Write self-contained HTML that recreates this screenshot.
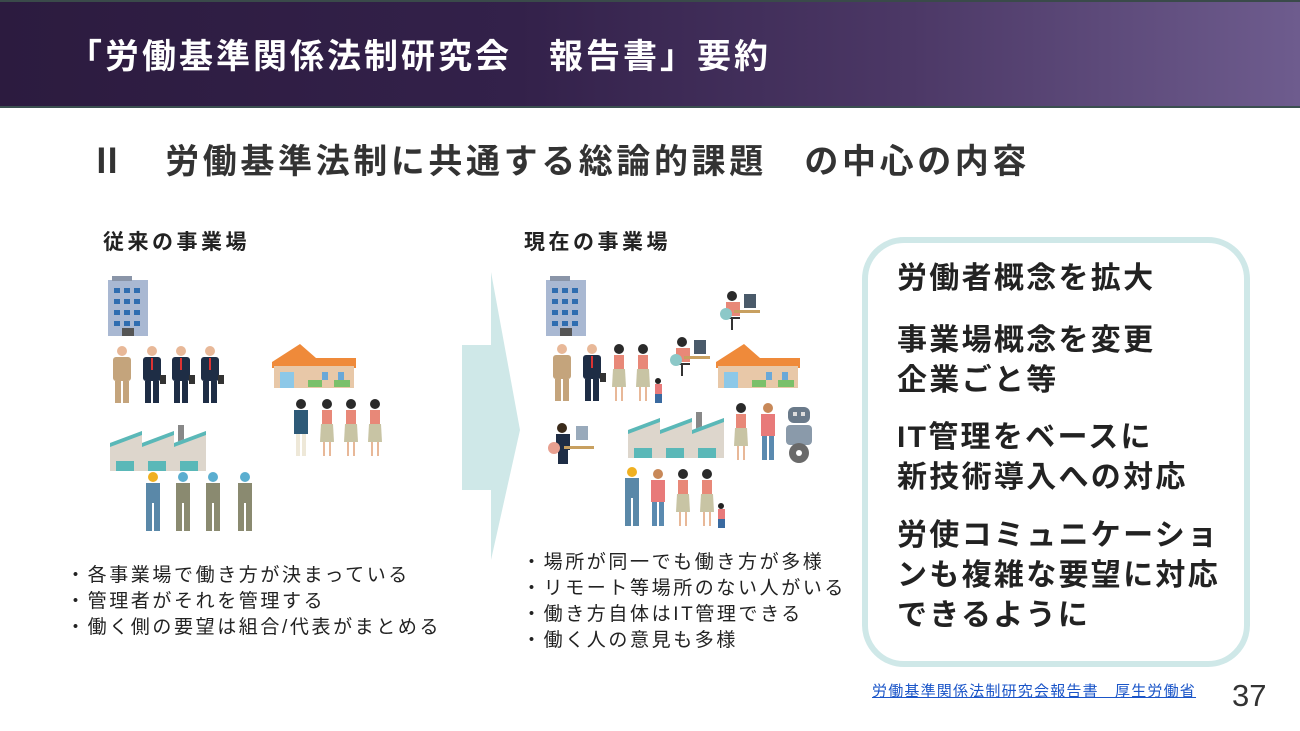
<!DOCTYPE html>
<html><head><meta charset="utf-8"><style>
body{margin:0;width:1300px;height:731px;position:relative;overflow:hidden;background:#fff;font-family:"Liberation Sans","Noto Sans CJK JP",sans-serif;}
.hd{position:absolute;left:0;top:0;width:1300px;height:108px;background:linear-gradient(90deg,#2c1b3f 0%,#33214a 40%,#4c3866 70%,#6e5c8e 100%);border-top:2px solid #3a4a4a;border-bottom:2px solid #3b5050;box-sizing:border-box}
.t{position:absolute;white-space:nowrap;line-height:1}
.box{position:absolute;left:862px;top:237px;width:388px;height:430px;border:6px solid #cfe8e8;border-radius:42px;box-sizing:border-box}
.bt{font-size:30px;letter-spacing:2.3px;font-weight:bold;color:#222;line-height:40px}
.bl{font-size:19px;letter-spacing:2.6px;color:#222;line-height:26px}
</style></head><body>
<div class="hd"></div>
<div class="t" style="left:68px;top:40px;font-size:34px;letter-spacing:3px;color:#fff;font-weight:bold">「労働基準関係法制研究会　報告書」要約</div>
<div class="t" style="left:90px;top:145px;font-size:34px;letter-spacing:3.6px;color:#333;font-weight:bold">Ⅱ　労働基準法制に共通する総論的課題　の中心の内容</div>
<div class="t" style="left:103px;top:232px;font-size:21px;letter-spacing:3.5px;font-weight:bold;color:#222">従来の事業場</div>
<div class="t" style="left:524px;top:232px;font-size:21px;letter-spacing:3.5px;font-weight:bold;color:#222">現在の事業場</div>
<div class="t bl" style="left:66px;top:563px">・各事業場で働き方が決まっている<br>・管理者がそれを管理する<br>・働く側の要望は組合/代表がまとめる</div>
<div class="t bl" style="left:522px;top:550px">・場所が同一でも働き方が多様<br>・リモート等場所のない人がいる<br>・働き方自体はIT管理できる<br>・働く人の意見も多様</div>
<div class="box"></div>
<div class="t bt" style="left:897px;top:259px">労働者概念を拡大</div>
<div class="t bt" style="left:897px;top:321px">事業場概念を変更<br>企業ごと等</div>
<div class="t bt" style="left:897px;top:418px">IT管理をベースに<br>新技術導入への対応</div>
<div class="t bt" style="left:897px;top:516px">労使コミュニケーショ<br>ンも複雑な要望に対応<br>できるように</div>
<div class="t" style="left:872px;top:684px;font-size:15px;letter-spacing:1.2px;color:#1a55c8;text-decoration:underline">労働基準関係法制研究会報告書　厚生労働省</div>
<div class="t" style="left:1232px;top:680px;font-size:31px;color:#333">37</div>
<svg width="1300" height="731" style="position:absolute;left:0;top:0">
<defs>
<g id="bld"><rect x="0" y="4" width="40" height="56" fill="#a9b8d2"/><rect x="4" y="0" width="20" height="5" fill="#8a95a8"/>
<g fill="#2f6db0"><rect x="6" y="12" width="6" height="5"/><rect x="16" y="12" width="6" height="5"/><rect x="26" y="12" width="6" height="5"/><rect x="6" y="23" width="6" height="5"/><rect x="16" y="23" width="6" height="5"/><rect x="26" y="23" width="6" height="5"/><rect x="6" y="34" width="6" height="5"/><rect x="16" y="34" width="6" height="5"/><rect x="26" y="34" width="6" height="5"/><rect x="6" y="45" width="6" height="5"/><rect x="16" y="45" width="6" height="5"/><rect x="26" y="45" width="6" height="5"/></g><rect x="14" y="52" width="12" height="8" fill="#555"/></g>
<g id="shop"><polygon points="0,18 28,0 44,14 84,14 84,24 0,24" fill="#ef8a3a"/><rect x="2" y="22" width="80" height="22" fill="#e8c8a8"/><rect x="8" y="28" width="14" height="16" fill="#8cc8e8"/><rect x="50" y="28" width="6" height="8" fill="#6aa8d8"/><rect x="66" y="28" width="6" height="8" fill="#6aa8d8"/><rect x="36" y="36" width="14" height="7" fill="#7ac06a"/><rect x="62" y="36" width="16" height="7" fill="#7ac06a"/></g>
<g id="fac"><rect x="68" y="0" width="6" height="22" fill="#888"/><polygon points="0,18 32,6 32,18 64,6 64,18 96,6 96,46 0,46" fill="#ddd6cc"/><polygon points="0,18 32,6 32,10 0,22" fill="#5ab8b8"/><polygon points="32,18 64,6 64,10 32,22" fill="#5ab8b8"/><polygon points="64,18 96,6 96,10 64,22" fill="#5ab8b8"/><rect x="6" y="36" width="18" height="10" fill="#5ab8b8"/><rect x="38" y="36" width="18" height="10" fill="#5ab8b8"/><rect x="70" y="36" width="18" height="10" fill="#5ab8b8"/></g>
<g id="man"><circle cx="12" cy="6" r="5" fill="#e8b898"/><rect x="3" y="12" width="18" height="24" rx="3" fill="#1e2d45"/><rect x="11" y="13" width="2" height="12" fill="#d33"/><rect x="5" y="36" width="6" height="22" fill="#1e2d45"/><rect x="13" y="36" width="6" height="22" fill="#1e2d45"/><rect x="20" y="30" width="6" height="9" fill="#333"/></g>
<g id="oman"><circle cx="12" cy="6" r="5" fill="#e8b898"/><rect x="3" y="12" width="18" height="24" rx="3" fill="#c4a47c"/><rect x="5" y="36" width="6" height="22" fill="#c4a47c"/><rect x="13" y="36" width="6" height="22" fill="#c4a47c"/></g>
<g id="wom"><circle cx="9" cy="6" r="5" fill="#2a2a2a"/><rect x="4" y="12" width="10" height="14" fill="#e88878"/><polygon points="3,26 15,26 16,44 2,44" fill="#c8c4a4"/><rect x="5" y="44" width="2" height="14" fill="#e8b898"/><rect x="11" y="44" width="2" height="14" fill="#e8b898"/></g>
<g id="wrk"><circle cx="10" cy="6" r="5" fill="#5aaed0"/><rect x="3" y="12" width="14" height="20" fill="#8a8a70"/><rect x="3" y="32" width="6" height="28" fill="#8a8a70"/><rect x="11" y="32" width="6" height="28" fill="#8a8a70"/></g>
<g id="wrk2"><circle cx="10" cy="6" r="5" fill="#f0b020"/><rect x="3" y="12" width="14" height="20" fill="#5a88a8"/><rect x="3" y="32" width="6" height="28" fill="#5a88a8"/><rect x="11" y="32" width="6" height="28" fill="#5a88a8"/></g>
<g id="pc"><circle cx="14" cy="8" r="5" fill="#2a2a2a"/><rect x="8" y="14" width="14" height="14" fill="#e88878"/><rect x="26" y="6" width="12" height="14" fill="#4a5a6a"/><rect x="16" y="22" width="26" height="3" fill="#c8a060"/><path d="M6 30 h16 M14 30 v12" stroke="#333" stroke-width="2"/><circle cx="8" cy="26" r="6" fill="#8cc8c8"/></g>
<g id="sp"><circle cx="10" cy="6" r="5" fill="#c88858"/><rect x="3" y="12" width="14" height="22" fill="#e87a7a"/><rect x="4" y="34" width="5" height="24" fill="#5a8ab0"/><rect x="11" y="34" width="5" height="24" fill="#5a8ab0"/></g>
</defs>
<polygon points="462,345 491,345 491,272 520,430 491,560 491,490 462,490" fill="#cfe8e8"/>
<use href="#bld" x="108" y="276"/>
<use href="#oman" x="110" y="345"/><use href="#man" x="140" y="345"/><use href="#man" x="169" y="345"/><use href="#man" x="198" y="345"/>
<use href="#shop" x="272" y="344"/>
<g transform="translate(292,398)"><circle cx="9" cy="6" r="5" fill="#2a2a2a"/><rect x="2" y="12" width="14" height="24" fill="#2e5a78"/><rect x="4" y="36" width="4" height="22" fill="#eee8d8"/><rect x="10" y="36" width="4" height="22" fill="#eee8d8"/></g>
<use href="#wom" x="318" y="398"/><use href="#wom" x="342" y="398"/><use href="#wom" x="366" y="398"/>
<use href="#fac" x="110" y="425"/>
<use href="#wrk2" x="143" y="471"/><use href="#wrk" x="173" y="471"/><use href="#wrk" x="203" y="471"/><use href="#wrk" x="235" y="471"/>
<use href="#bld" x="546" y="276"/>
<use href="#oman" x="550" y="343"/><use href="#man" x="580" y="343"/><use href="#wom" x="610" y="343"/><use href="#wom" x="634" y="343"/>
<g transform="translate(654,378)"><circle cx="4" cy="3" r="3" fill="#222"/><rect x="1" y="6" width="7" height="10" fill="#e87a7a"/><rect x="1" y="16" width="7" height="9" fill="#3a6aa0"/></g>
<use href="#pc" x="718" y="288"/>
<use href="#pc" x="668" y="334"/>
<use href="#shop" x="716" y="344"/>
<g transform="translate(548,420)"><circle cx="14" cy="8" r="5" fill="#3a2a1a"/><rect x="8" y="14" width="14" height="16" fill="#1e2d45"/><rect x="28" y="6" width="12" height="14" fill="#9ab"/><rect x="16" y="26" width="30" height="3" fill="#c8a060"/><rect x="10" y="30" width="10" height="14" fill="#1e2d45"/><circle cx="6" cy="28" r="6" fill="#e8a090"/></g>
<use href="#fac" x="628" y="412"/>
<use href="#wom" x="732" y="402"/><use href="#sp" x="758" y="402"/>
<g transform="translate(784,405)"><rect x="4" y="2" width="22" height="16" rx="6" fill="#6a7a8a"/><rect x="9" y="7" width="4" height="4" fill="#ddd"/><rect x="17" y="7" width="4" height="4" fill="#ddd"/><rect x="2" y="20" width="26" height="20" rx="4" fill="#8a9aaa"/><circle cx="15" cy="48" r="10" fill="#6a6a6a"/><circle cx="15" cy="48" r="3" fill="#fff"/></g>
<use href="#wrk2" x="622" y="466"/><use href="#sp" x="648" y="468"/><use href="#wom" x="674" y="468"/><use href="#wom" x="698" y="468"/>
<g transform="translate(717,503)"><circle cx="4" cy="3" r="3" fill="#222"/><rect x="1" y="6" width="7" height="10" fill="#e87a7a"/><rect x="1" y="16" width="7" height="9" fill="#3a6aa0"/></g>
</svg>
</body></html>
